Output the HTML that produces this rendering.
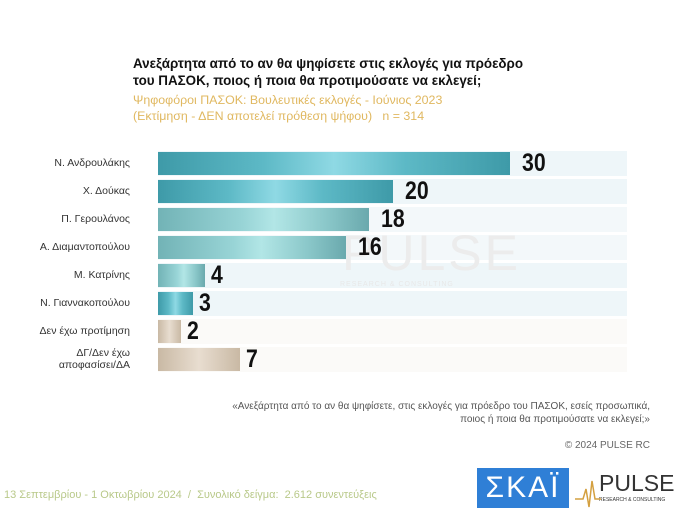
<!DOCTYPE html>
<html><head><meta charset="utf-8"><style>
body{margin:0;width:683px;height:510px;background:#fff;position:relative;font-family:"Liberation Sans","DejaVu Sans",sans-serif;overflow:hidden}
.t{position:absolute;white-space:nowrap}
.lab{position:absolute;right:553px;font-size:10.5px;color:#333;text-align:right;line-height:12px}
.bg{position:absolute;left:158px;width:469px;height:25px}
.bar{position:absolute;left:158px;height:23px}
.num{position:absolute;font-size:25px;font-weight:bold;color:#111;transform:scaleX(0.85);transform-origin:left}
.teal{background:linear-gradient(90deg,#3e9aa8,#5db9c6 30%,#8fd9e4 50%,#5db9c6 70%,#3e9aa8)}
.teal2{background:linear-gradient(90deg,#72b3b6,#98d4d6 40%,#b2e6e6 55%,#8ac7c9 80%,#6aa9ad)}
.beige{background:linear-gradient(90deg,#c9b9a4,#e8ddd0 50%,#c9b9a4)}
</style></head><body>
<div class="t" style="left:133px;top:55px;font-size:13.4px;font-weight:bold;color:#111;line-height:17px">Ανεξάρτητα από το αν θα ψηφίσετε στις εκλογές για πρόεδρο<br>του ΠΑΣΟΚ, ποιος ή ποια θα προτιμούσατε να εκλεγεί;</div>
<div class="t" style="left:133px;top:92px;font-size:12.4px;color:#e0b860;line-height:16px">Ψηφοφόροι ΠΑΣΟΚ: Βουλευτικές εκλογές - Ιούνιος 2023<br>(Εκτίμηση - ΔΕΝ αποτελεί πρόθεση ψήφου) &nbsp;&nbsp;n = 314</div>

<div class="bg" style="top:151px;background:#eef6f9"></div>
<div class="bg" style="top:179px;background:#eef6f9"></div>
<div class="bg" style="top:207px;background:#f3f8fa"></div>
<div class="bg" style="top:235px;background:#f3f8fa"></div>
<div class="bg" style="top:263px;background:#eef6f9"></div>
<div class="bg" style="top:291px;background:#eef6f9"></div>
<div class="bg" style="top:319px;background:#fbfaf8"></div>
<div class="bg" style="top:347px;background:#fbfaf8"></div>

<div class="t" style="left:342px;top:224px;font-size:50px;color:#ececec;letter-spacing:3px">PULSE</div>
<div class="t" style="left:340px;top:281px;font-size:7px;color:#e8e8e8;letter-spacing:1px">RESEARCH &amp; CONSULTING</div>

<div class="bar teal" style="top:152px;width:352px"></div><div class="num" style="left:522px;top:149px">30</div>
<div class="bar teal" style="top:180px;width:235px"></div><div class="num" style="left:405px;top:177px">20</div>
<div class="bar teal2" style="top:208px;width:211px"></div><div class="num" style="left:381px;top:205px">18</div>
<div class="bar teal2" style="top:236px;width:188px"></div><div class="num" style="left:358px;top:233px">16</div>
<div class="bar teal2" style="top:264px;width:47px"></div><div class="num" style="left:211px;top:261px">4</div>
<div class="bar teal" style="top:292px;width:35px"></div><div class="num" style="left:199px;top:289px">3</div>
<div class="bar beige" style="top:320px;width:23px"></div><div class="num" style="left:187px;top:317px">2</div>
<div class="bar beige" style="top:348px;width:82px"></div><div class="num" style="left:246px;top:345px">7</div>

<div class="lab" style="top:157px">Ν. Ανδρουλάκης</div>
<div class="lab" style="top:185px">Χ. Δούκας</div>
<div class="lab" style="top:213px">Π. Γερουλάνος</div>
<div class="lab" style="top:241px">Α. Διαμαντοπούλου</div>
<div class="lab" style="top:269px">Μ. Κατρίνης</div>
<div class="lab" style="top:297px">Ν. Γιαννακοπούλου</div>
<div class="lab" style="top:325px">Δεν έχω προτίμηση</div>
<div class="lab" style="top:347px">ΔΓ/Δεν έχω<br>αποφασίσει/ΔΑ</div>

<div class="t" style="right:33px;top:400px;font-size:10px;color:#555;text-align:right;line-height:13px">«Ανεξάρτητα από το αν θα ψηφίσετε, στις εκλογές για πρόεδρο του ΠΑΣΟΚ, εσείς προσωπικά,<br>ποιος ή ποια θα προτιμούσατε να εκλεγεί;»</div>
<div class="t" style="right:33px;top:440px;font-size:10px;color:#666">© 2024 PULSE RC</div>

<div class="t" style="left:4px;top:489px;font-size:11px;color:#b9c98a">13 Σεπτεμβρίου - 1 Οκτωβρίου 2024 &nbsp;/ &nbsp;Συνολικό δείγμα: &nbsp;2.612 συνεντεύξεις</div>
<div style="position:absolute;left:477px;top:468px;width:92px;height:40px;background:#2f7fd6;color:#fff;font-size:30px;text-align:center;line-height:40px;letter-spacing:2px">ΣΚΑΪ</div>
<div class="t" style="left:599px;top:470px;font-size:23px;color:#333;letter-spacing:0px">PULSE</div>
<div class="t" style="left:599px;top:497px;font-size:5px;color:#333">RESEARCH &amp; CONSULTING</div>
<svg style="position:absolute;left:575px;top:475px" width="26" height="34"><polyline points="0,24 8,24 11,14 14,32 17,6 20,24 26,24" fill="none" stroke="#d4a040" stroke-width="1.5"/></svg>
</body></html>
